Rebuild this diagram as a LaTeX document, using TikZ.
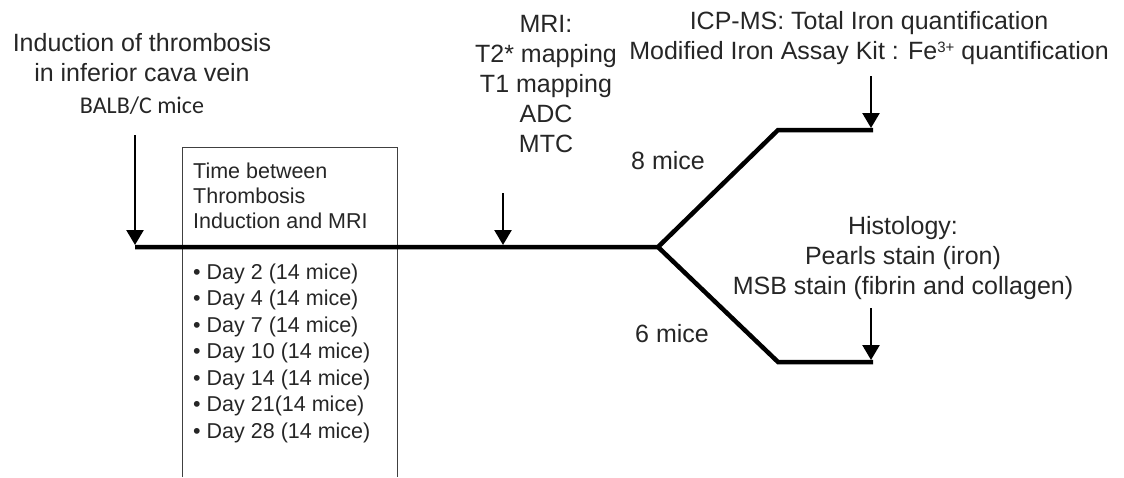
\documentclass[tikz,border=0pt]{standalone}
\usepackage{fontspec}
\setmainfont{Liberation Sans}
\newfontfamily\calfont{Carlito}
\usetikzlibrary{arrows.meta}
\begin{document}
\begin{tikzpicture}[x=1pt,y=-1pt,
  lbl/.style={inner sep=0pt,align=center,text=black!85,font=\fontsize{25}{30}\selectfont},
  boxtxt/.style={inner sep=0pt,align=left,anchor=west,text=black!85},
  timeline/.style={line width=4.5pt,line join=miter,line cap=butt},
  pointer/.style={line width=2.5pt,-{Triangle[width=17pt 0,length=15pt 0]}},
  frame/.style={line width=1pt,draw=black!75}]
\useasboundingbox (0,0) rectangle (1124,477);

% cohort timing box (open at the bottom)
\draw[frame] (182,477) -- (182,147) -- (397,147) -- (397,477);
\node[boxtxt,font=\fontsize{21.5}{25}\selectfont] (boxhead) at (193,196)
  {Time between\\Thrombosis\\Induction and MRI};
\node[boxtxt,font=\fontsize{21.5}{26.5}\selectfont] (days) at (193,353)
  {\textbullet\ Day 2 (14 mice)\\
   \textbullet\ Day 4 (14 mice)\\
   \textbullet\ Day 7 (14 mice)\\
   \textbullet\ Day 10 (14 mice)\\
   \textbullet\ Day 14 (14 mice)\\
   \textbullet\ Day 21(14 mice)\\
   \textbullet\ Day 28 (14 mice)};

% timeline and branching
\coordinate (start) at (135,247);
\coordinate (fork) at (658,247);
\coordinate (upbend) at (778,130);
\coordinate (upend) at (873,130);
\coordinate (lowbend) at (778,362);
\coordinate (lowend) at (873,362);
\draw[timeline] (start) -- (fork) -- (upbend) -- (upend);
\draw[timeline] (fork) -- (lowbend) -- (lowend);

% labels
\node[lbl] (induct) at (142,58) {Induction of thrombosis\\in inferior cava vein};
\node[lbl,font=\calfont\fontsize{24}{28}\selectfont] (strain) at (142,106) {BALB/C mice};
\node[lbl] (mri) at (546,84) {MRI:\\T2* mapping\\T1 mapping\\ADC\\MTC};
\node[lbl] (icp) at (869,38) {ICP-MS: Total Iron quantification\\Modified Iron Assay Kit : Fe{\fontsize{15}{15}\selectfont\raisebox{7pt}{3+}} quantification};
\node[lbl] (eight) at (668,161) {8 mice};
\node[lbl] (histo) at (903,258) {Histology:\\Pearls stain (iron)\\MSB stain (fibrin and collagen)};
\node[lbl] (six) at (672,334) {6 mice};

% pointer arrows
\coordinate (a1) at (135,135);
\coordinate (a2) at (503,193);
\coordinate (a3) at (871,76);
\coordinate (a4) at (871,308);
\draw[pointer] (a1) -- (135,245);
\draw[pointer] (a2) -- (503,245);
\draw[pointer] (a3) -- (871,128);
\draw[pointer] (a4) -- (871,360);
\end{tikzpicture}
\end{document}
